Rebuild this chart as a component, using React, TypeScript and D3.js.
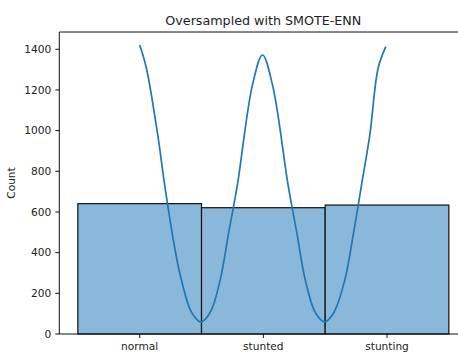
import React from "react";
import * as d3 from "d3";

const categories = ["normal", "stunted", "stunting"];
const counts = [641, 621, 634];
const yTicks = [0, 200, 400, 600, 800, 1000, 1200, 1400];
// KDE curve points: [category position, count]
const kdeX = [0, 0.054, 0.146, 0.202, 0.28, 0.337, 0.42, 0.494, 0.57, 0.651, 0.72, 0.79, 0.912, 0.993, 1.074, 1.2, 1.27, 1.339, 1.42, 1.497, 1.57, 1.659, 1.73, 1.794, 1.861, 1.928, 1.99];
const kdeY = [1421, 1308, 979, 733, 435, 266, 106, 60, 106, 266, 500, 733, 1225, 1372, 1225, 733, 500, 266, 106, 60, 106, 266, 500, 733, 979, 1307, 1413];

const W = 458;
const H = 352;
const left = 59.3;
const right = 467.4;
const top = 32;
const bottom = 334;

export default function App() {
  const x = d3.scaleLinear().domain([-0.65, 2.65]).range([left, right]);
  const y = d3.scaleLinear().domain([0, 1485]).range([bottom, top]);
  const pts: [number, number][] = kdeX.map((v, i) => [v, kdeY[i]]);
  const line = d3
    .line<[number, number]>()
    .x((d) => x(d[0]))
    .y((d) => y(d[1]))
    .curve(d3.curveCatmullRom.alpha(0.5));
  const font = "DejaVu Sans, sans-serif";
  return (
    <svg
      width={W}
      height={H}
      style={{ position: "absolute", left: 0, top: 0, background: "#fff" }}
      fontFamily={font}
    >
      <rect x={0} y={0} width={W} height={H} fill="#fff" />
      {counts.map((c, i) => (
        <rect
          key={categories[i]}
          x={x(i - 0.5)}
          y={y(c)}
          width={x(i + 0.5) - x(i - 0.5)}
          height={y(0) - y(c)}
          fill="#8ab8da"
          stroke="#111"
          strokeWidth={1.2}
        />
      ))}
      <path d={line(pts) || ""} fill="none" stroke="#1f77b4" strokeWidth={1.7} />
      {/* spines */}
      <line x1={left} x2={left} y1={top} y2={bottom} stroke="#111" strokeWidth={1} />
      <line x1={left} x2={W} y1={top} y2={top} stroke="#111" strokeWidth={1} />
      <line x1={left} x2={W} y1={bottom} y2={bottom} stroke="#111" strokeWidth={1} />
      {yTicks.map((t) => (
        <g key={t} transform={`translate(0,${y(t)})`}>
          <line x1={left - 4} x2={left} stroke="#111" strokeWidth={1} />
          <text x={left - 8} dy="0.36em" textAnchor="end" fontSize={10.6} fill="#222">
            {t}
          </text>
        </g>
      ))}
      {categories.map((c, i) => (
        <g key={c} transform={`translate(${x(i)},0)`}>
          <line y1={bottom} y2={bottom + 4} stroke="#111" strokeWidth={1} />
          <text y={349.5} textAnchor="middle" fontSize={10.6} fill="#222">
            {c}
          </text>
        </g>
      ))}
      <text
        transform={`translate(15,${(top + bottom) / 2}) rotate(-90)`}
        textAnchor="middle"
        fontSize={10.6}
        fill="#222"
      >
        Count
      </text>
      <text x={(left + right) / 2} y={25} textAnchor="middle" fontSize={12.7} fill="#222">
        Oversampled with SMOTE-ENN
      </text>
    </svg>
  );
}
